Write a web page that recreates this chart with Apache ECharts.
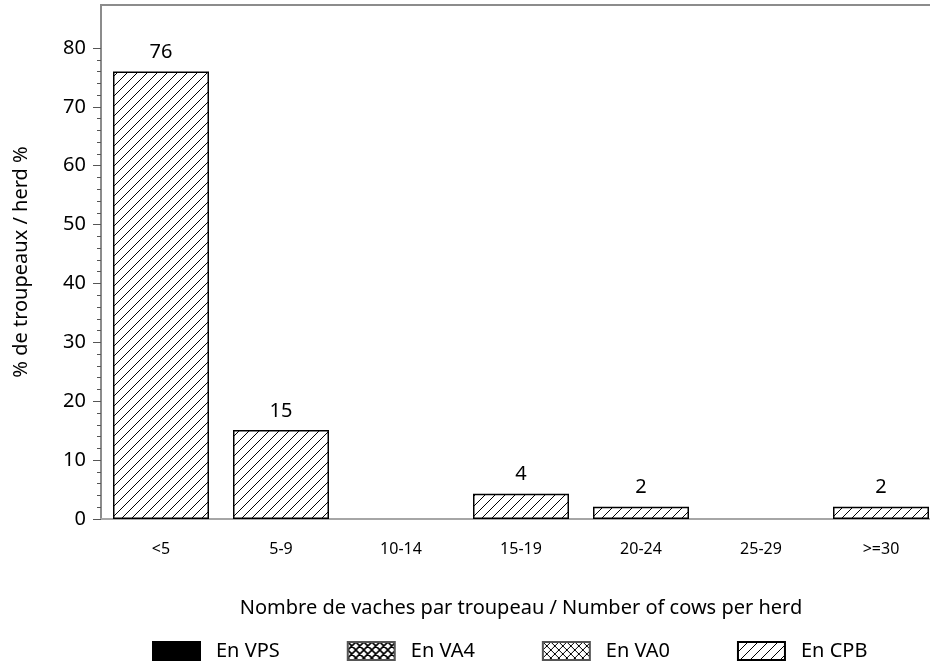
<!DOCTYPE html>
<html>
<head>
<meta charset="utf-8">
<script src="https://cdn.jsdelivr.net/npm/echarts@6/dist/echarts.min.js"></script>
<style>
  html, body { margin: 0; padding: 0; background: #fff; }
  #chart { width: 930px; height: 668px; }
</style>
</head>
<body>
<div id="chart"></div>
<script>
const categories = ['<5', '5-9', '10-14', '15-19', '20-24', '25-29', '>=30'];
const seriesNames = ['En VPS', 'En VA4', 'En VA0', 'En CPB'];
const vpsValues = [0, 0, 0, 0, 0, 0, 0];
const va4Values = [0, 0, 0, 0, 0, 0, 0];
const va0Values = [0, 0, 0, 0, 0, 0, 0];
const cpbValues = [76, 15.1, 0, 4.3, 2.1, 0, 2.1];
const majorTicks = [0, 10, 20, 30, 40, 50, 60, 70, 80];
const minorTicks = [];
for (let v = 2; v < 80; v += 2) {
  if (v % 10 !== 0) minorTicks.push(v);
}

const FONT = 'Noto Sans';
const PLOT_W = 840;

// hatch fills drawn on small canvas tiles
function makePattern(size, draw) {
  const c = document.createElement('canvas');
  c.width = size;
  c.height = size;
  const ctx = c.getContext('2d');
  ctx.fillStyle = '#fff';
  ctx.fillRect(0, 0, size, size);
  ctx.strokeStyle = '#000';
  draw(ctx, size);
  return { image: c, repeat: 'repeat' };
}

function slash(ctx, s) {
  ctx.lineWidth = 1;
  ctx.beginPath();
  for (let k = -1; k <= 1; k++) {
    ctx.moveTo(k * s, s);
    ctx.lineTo(k * s + s, 0);
  }
  ctx.stroke();
}

function cross(ctx, s) {
  ctx.beginPath();
  for (let k = -1; k <= 1; k++) {
    ctx.moveTo(k * s, s);
    ctx.lineTo(k * s + s, 0);
    ctx.moveTo(k * s, 0);
    ctx.lineTo(k * s + s, s);
  }
  ctx.stroke();
}

const cpbFill = makePattern(10, slash);
const va4Fill = makePattern(8, (ctx, s) => { ctx.lineWidth = 1.6; cross(ctx, s); });
const va0Fill = makePattern(8, (ctx, s) => { ctx.lineWidth = 1; cross(ctx, s); });

// a zero value gets no outline, so nothing shows on the axis
function barData(values) {
  return values.map(v => (v === 0 ? { value: 0, itemStyle: { borderWidth: 0 } } : v));
}

const chart = echarts.init(document.getElementById('chart'));

const barBase = {
  type: 'bar',
  stack: 'herd',
  barWidth: 96,
  silent: true,
};

const option = {
  animation: false,
  textStyle: { fontFamily: FONT },
  grid: {
    left: 101,
    top: 5,
    width: PLOT_W,
    bottom: 149,
    outerBoundsMode: 'none',
    containLabel: false,
    show: true,
    borderColor: '#8c8c8c',
    borderWidth: 2,
    backgroundColor: 'transparent',
  },
  legend: {
    bottom: 7,
    left: 152,
    padding: 0,
    itemWidth: 47,
    itemHeight: 18,
    itemGap: 67,
    icon: 'rect',
    selectedMode: false,
    textStyle: {
      fontFamily: FONT,
      fontSize: 20,
      color: '#000',
      width: 70,
      padding: [0, 0, 0, 11],
    },
    data: seriesNames,
  },
  xAxis: {
    type: 'category',
    data: categories,
    axisLine: { lineStyle: { color: '#a6a6a6', width: 2 } },
    axisTick: { show: false },
    axisLabel: { color: '#000', fontSize: 16, margin: 22, fontFamily: FONT },
    name: 'Nombre de vaches par troupeau / Number of cows per herd',
    nameLocation: 'middle',
    nameGap: 79,
    nameTextStyle: { color: '#000', fontSize: 20, fontFamily: FONT },
  },
  yAxis: [
    {
      type: 'value',
      min: 0,
      max: 87.3,
      interval: 10,
      splitLine: { show: false },
      axisLine: { show: true, lineStyle: { color: '#8c8c8c', width: 1 } },
      axisTick: { show: true, length: 8, customValues: majorTicks, lineStyle: { color: '#555' } },
      axisLabel: { color: '#000', fontSize: 20, margin: 15, customValues: majorTicks, fontFamily: FONT },
      name: '% de troupeaux / herd %',
      nameLocation: 'middle',
      nameGap: 70,
      nameTextStyle: { color: '#000', fontSize: 20, fontFamily: FONT },
    },
    {
      type: 'value',
      position: 'right',
      offset: -PLOT_W,
      min: 0,
      max: 87.3,
      interval: 10,
      splitLine: { show: false },
      axisLine: { show: false },
      axisTick: { show: true, inside: true, length: 4, customValues: minorTicks, lineStyle: { color: '#555' } },
      axisLabel: { show: false },
    },
  ],
  series: [
    Object.assign({}, barBase, {
      name: seriesNames[0],
      data: barData(vpsValues),
      itemStyle: { color: '#000', borderColor: '#000', borderWidth: 1 },
    }),
    Object.assign({}, barBase, {
      name: seriesNames[1],
      data: barData(va4Values),
      itemStyle: { color: va4Fill, borderColor: '#555', borderWidth: 1 },
    }),
    Object.assign({}, barBase, {
      name: seriesNames[2],
      data: barData(va0Values),
      itemStyle: { color: va0Fill, borderColor: '#555', borderWidth: 1 },
    }),
    Object.assign({}, barBase, {
      name: seriesNames[3],
      data: barData(cpbValues),
      itemStyle: { color: cpbFill, borderColor: '#000', borderWidth: 1.5 },
      label: {
        show: true,
        position: 'top',
        distance: 9,
        color: '#000',
        fontSize: 20,
        fontFamily: FONT,
        formatter: p => (p.value > 0 ? String(Math.round(p.value)) : ''),
      },
    }),
  ],
};

chart.setOption(option);
</script>
</body>
</html>
